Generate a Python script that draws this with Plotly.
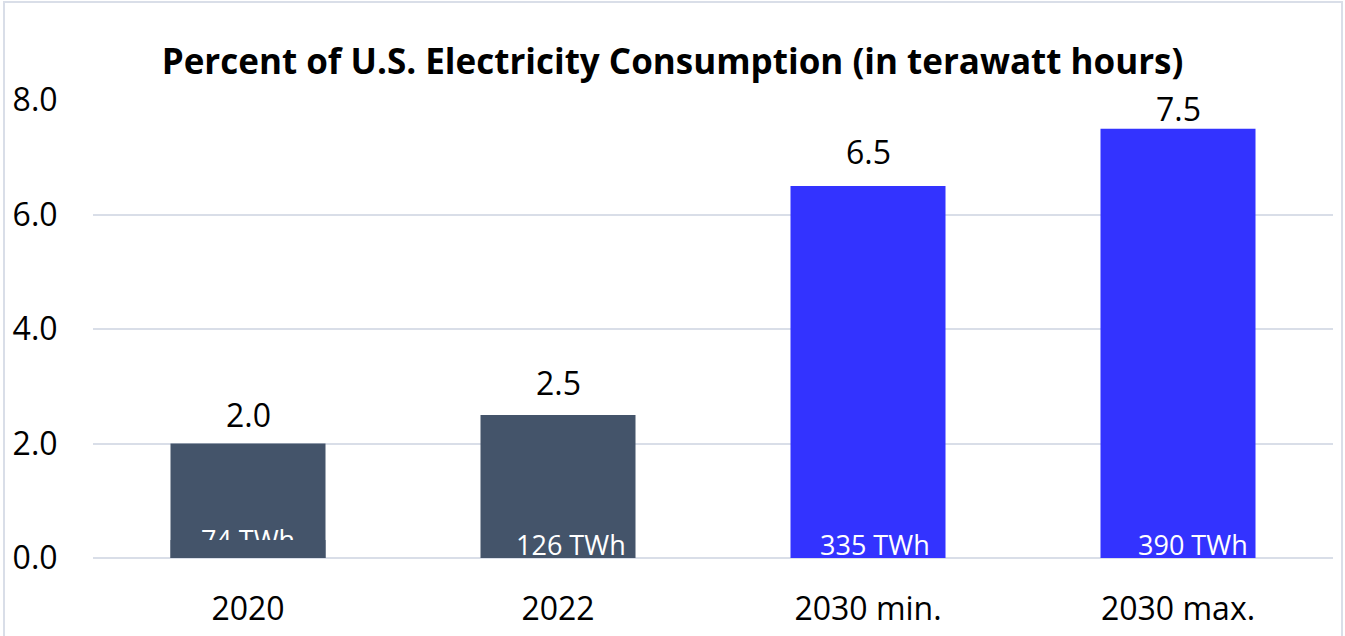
import plotly.graph_objects as go

categories = ["2020", "2022", "2030 min.", "2030 max."]
percent = [2.0, 2.5, 6.5, 7.5]
twh_labels = ["74 TWh", "126 TWh", "335 TWh", "390 TWh"]
colors = ["#44546A", "#44546A", "#3333FF", "#3333FF"]
y_ticks = [0, 2, 4, 6, 8]
y_tick_labels = ["0.0", "2.0", "4.0", "6.0", "8.0"]

# style: nudges (pixels) of the labels, as placed in the source
label_xshift = [-8, 13, 7, 15]
value_gap = [16, 19, 21, 7]

FONT = "Open Sans"
BAR_W = 0.5

fig = go.Figure()
fig.add_trace(go.Bar(
    x=list(range(len(categories))), y=percent,
    marker=dict(color=colors, line=dict(width=0)),
    width=BAR_W,
    cliponaxis=False,
    hoverinfo="skip",
))

annotations = []
shapes = [dict(
    type="rect", xref="paper", yref="paper",
    x0=-89 / 1240, x1=1249 / 1240, y0=-0.3, y1=556 / 458,
    line=dict(color="#D9DEE8", width=2), fillcolor="rgba(0,0,0,0)",
    layer="below",
)]

for i, v in enumerate(percent):
    annotations.append(dict(
        x=i, y=v, xref="x", yref="y", text=f"{v:.1f}", showarrow=False,
        xanchor="center", yanchor="bottom", yshift=value_gap[i] - 10,
        font=dict(family=FONT, size=32, color="#000000"),
    ))

for i, lab in enumerate(twh_labels):
    if i == 0:
        # first label is partly hidden under the bar fill, as in the source
        shapes.append(dict(
            type="rect", xref="x", yref="y",
            x0=i - BAR_W / 2, x1=i + BAR_W / 2, y0=0.19, y1=0.39,
            line=dict(width=0), fillcolor="rgba(0,0,0,0)", layer="above",
            label=dict(text=lab, textposition="middle center",
                       font=dict(family=FONT, size=27, color="#FFFFFF")),
        ))
        shapes.append(dict(
            type="rect", xref="x", yref="y",
            x0=i - BAR_W / 2, x1=i + BAR_W / 2, y0=0, y1=0.314,
            line=dict(width=0), fillcolor=colors[i], layer="above",
        ))
    else:
        annotations.append(dict(
            x=i, y=0, xref="x", yref="y", text=lab, showarrow=False,
            xanchor="center", yanchor="bottom",
            xshift=label_xshift[i], yshift=-7,
            font=dict(family=FONT, size=27, color="#FFFFFF"),
        ))

fig.update_layout(
    width=1345, height=636,
    margin=dict(l=93, r=12, t=100, b=78, autoexpand=False),
    paper_bgcolor="white", plot_bgcolor="white",
    showlegend=False,
    title=dict(
        text="<b>Percent of U.S. Electricity Consumption (in terawatt hours)</b>",
        x=0.5, xanchor="center", y=1 - 62 / 636, yanchor="middle",
        font=dict(family=FONT, size=35, color="#000000"),
    ),
    xaxis=dict(
        range=[-0.5, len(categories) - 0.5],
        tickvals=list(range(len(categories))), ticktext=categories,
        automargin=False,
        showgrid=False, showline=False, zeroline=False,
        ticks="outside", ticklen=23, tickcolor="rgba(0,0,0,0)",
        tickfont=dict(family=FONT, size=32, color="#000000"),
    ),
    yaxis=dict(
        range=[0, 8], tickvals=y_ticks, ticktext=y_tick_labels, automargin=False,
        showgrid=True, gridcolor="#D9DEE8", gridwidth=2,
        zeroline=True, zerolinecolor="#D9DEE8", zerolinewidth=2,
        ticks="outside", ticklen=28, tickcolor="rgba(0,0,0,0)",
        tickfont=dict(family=FONT, size=32, color="#000000"),
    ),
    annotations=annotations,
    shapes=shapes,
)

fig.write_html("out.html", config={"displayModeBar": False},
               post_script="document.body.style.margin='0';")
